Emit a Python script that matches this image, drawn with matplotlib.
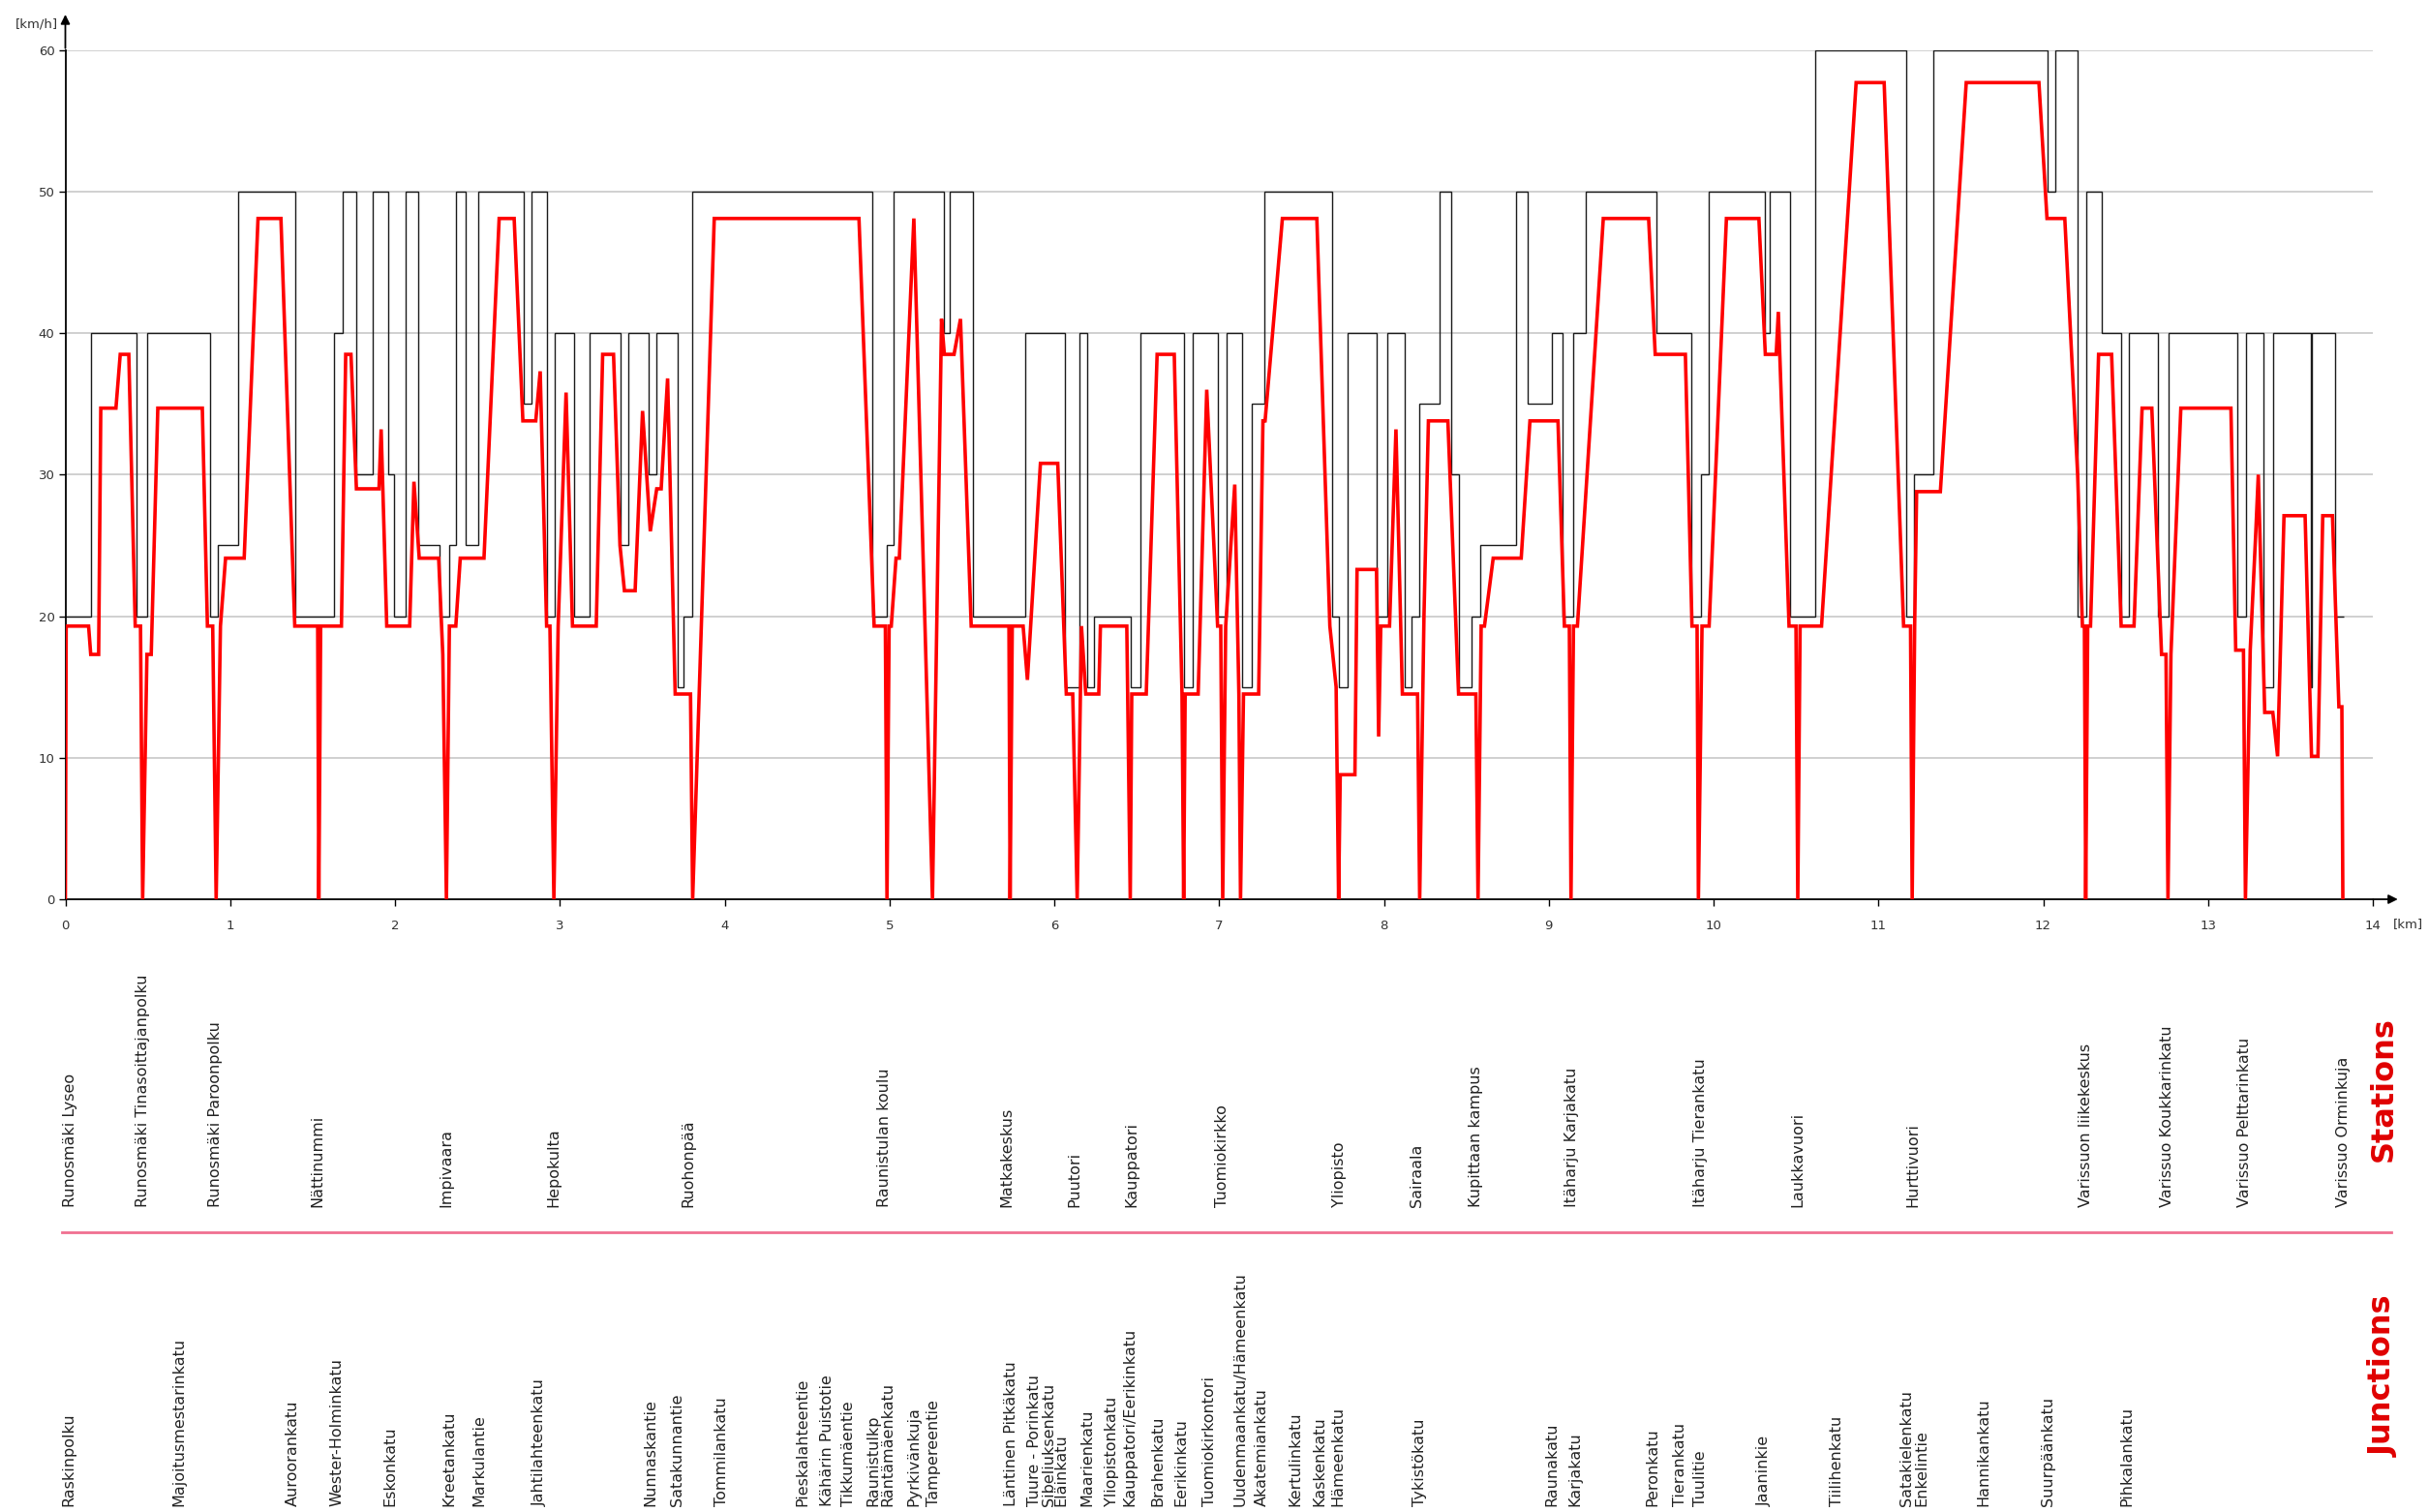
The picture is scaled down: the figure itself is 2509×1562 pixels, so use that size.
import matplotlib
matplotlib.use('Agg')
import matplotlib.pyplot as plt
import matplotlib.transforms as mtransforms
from matplotlib import font_manager

# ---------------- data ----------------
# speed limit (step function): start of each segment [km] and limit [km/h]
limit_start_km = [0.000, 0.154, 0.430, 0.495, 0.880, 0.928, 1.046, 1.394, 1.628, 1.683,
                  1.766, 1.864, 1.958, 1.995, 2.063, 2.141, 2.270, 2.330, 2.369, 2.427,
                  2.508, 2.784, 2.828, 2.925, 2.967, 3.085, 3.182, 3.371, 3.418, 3.536,
                  3.588, 3.714, 3.753, 3.806, 4.894, 4.985, 5.025, 5.331, 5.365, 5.504,
                  5.824, 6.065, 6.152, 6.199, 6.243, 6.466, 6.524, 6.786, 6.838, 6.991,
                  7.043, 7.140, 7.200, 7.274, 7.685, 7.725, 7.777, 7.955, 8.021, 8.125,
                  8.165, 8.217, 8.340, 8.406, 8.453, 8.532, 8.584, 8.799, 8.872, 9.017,
                  9.082, 9.148, 9.226, 9.651, 9.863, 9.921, 9.968, 10.309, 10.340, 10.466,
                  10.616, 11.171, 11.218, 11.336, 12.029, 12.072, 12.209, 12.264, 12.356, 12.473,
                  12.518, 12.698, 12.761, 13.178, 13.231, 13.334, 13.397, 13.622, 13.632, 13.769]
limit_kmh = [20, 40, 20, 40, 20, 25, 50, 20, 40, 50,
             30, 50, 30, 20, 50, 25, 20, 25, 50, 25,
             50, 35, 50, 20, 40, 20, 40, 25, 40, 30,
             40, 15, 20, 50, 20, 25, 50, 40, 50, 20,
             40, 15, 40, 15, 20, 15, 40, 15, 40, 20,
             40, 15, 35, 50, 20, 15, 40, 20, 40, 15,
             20, 35, 50, 30, 15, 20, 25, 50, 35, 40,
             20, 40, 50, 40, 20, 30, 50, 40, 50, 20,
             60, 20, 30, 60, 50, 60, 20, 50, 40, 20,
             40, 20, 40, 20, 40, 15, 40, 15, 40, 20]
route_end_km = 13.824

# simulated running speed profile
speed_km = [0.000, 0.005, 0.141, 0.154, 0.202, 0.215, 0.307, 0.333, 0.385, 0.424,
            0.456, 0.469, 0.495, 0.521, 0.561, 0.831, 0.862, 0.894, 0.915, 0.941,
            0.972, 1.085, 1.169, 1.308, 1.392, 1.531, 1.538, 1.549, 1.675, 1.701,
            1.733, 1.766, 1.903, 1.916, 1.950, 2.089, 2.115, 2.147, 2.265, 2.290,
            2.312, 2.330, 2.369, 2.396, 2.540, 2.632, 2.723, 2.776, 2.854, 2.881,
            2.920, 2.940, 2.964, 2.990, 3.038, 3.077, 3.221, 3.260, 3.326, 3.365,
            3.392, 3.457, 3.502, 3.549, 3.588, 3.615, 3.654, 3.700, 3.793, 3.806,
            3.937, 4.815, 4.907, 4.975, 4.985, 4.998, 5.011, 5.040, 5.060, 5.148,
            5.261, 5.316, 5.333, 5.392, 5.431, 5.496, 5.725, 5.732, 5.745, 5.811,
            5.837, 5.916, 6.021, 6.073, 6.112, 6.139, 6.165, 6.191, 6.270, 6.280,
            6.440, 6.461, 6.470, 6.558, 6.624, 6.728, 6.775, 6.785, 6.794, 6.873,
            6.925, 6.991, 7.010, 7.022, 7.040, 7.095, 7.120, 7.130, 7.148, 7.240,
            7.266, 7.279, 7.384, 7.593, 7.672, 7.710, 7.725, 7.735, 7.824, 7.837,
            7.955, 7.968, 7.981, 8.034, 8.073, 8.112, 8.204, 8.217, 8.243, 8.270,
            8.388, 8.453, 8.558, 8.571, 8.590, 8.610, 8.663, 8.833, 8.886, 9.056,
            9.095, 9.125, 9.135, 9.150, 9.174, 9.331, 9.606, 9.646, 9.829, 9.869,
            9.900, 9.908, 9.930, 9.973, 10.078, 10.275, 10.314, 10.380, 10.393, 10.458,
            10.500, 10.511, 10.525, 10.655, 10.865, 11.035, 11.153, 11.195, 11.205, 11.220,
            11.232, 11.376, 11.533, 11.974, 12.023, 12.131, 12.209, 12.238, 12.250, 12.258,
            12.270, 12.287, 12.336, 12.415, 12.473, 12.551, 12.600, 12.659, 12.718, 12.745,
            12.757, 12.775, 12.835, 13.139, 13.168, 13.215, 13.227, 13.256, 13.290, 13.305,
            13.344, 13.393, 13.422, 13.461, 13.589, 13.628, 13.667, 13.696, 13.755, 13.794,
            13.812, 13.818]
speed_kmh = [0.0, 19.3, 19.3, 17.3, 17.3, 34.7, 34.7, 38.5, 38.5, 19.3,
             19.3, 0.0, 17.3, 17.3, 34.7, 34.7, 19.3, 19.3, 0.0, 19.3,
             24.1, 24.1, 48.1, 48.1, 19.3, 19.3, 0.0, 19.3, 19.3, 38.5,
             38.5, 29.0, 29.0, 33.2, 19.3, 19.3, 29.5, 24.1, 24.1, 17.3,
             0.0, 19.3, 19.3, 24.1, 24.1, 48.1, 48.1, 33.8, 33.8, 37.3,
             19.3, 19.3, 0.0, 19.3, 35.8, 19.3, 19.3, 38.5, 38.5, 25.0,
             21.8, 21.8, 34.5, 26.0, 29.0, 29.0, 36.8, 14.5, 14.5, 0.0,
             48.1, 48.1, 19.3, 19.3, 0.0, 19.3, 19.3, 24.1, 24.1, 48.1,
             0.0, 41.0, 38.5, 38.5, 41.0, 19.3, 19.3, 0.0, 19.3, 19.3,
             15.5, 30.8, 30.8, 14.5, 14.5, 0.0, 19.3, 14.5, 14.5, 19.3,
             19.3, 0.0, 14.5, 14.5, 38.5, 38.5, 14.5, 0.0, 14.5, 14.5,
             36.0, 19.3, 19.3, 0.0, 19.3, 29.3, 14.5, 0.0, 14.5, 14.5,
             33.8, 33.8, 48.1, 48.1, 19.3, 15.0, 0.0, 8.8, 8.8, 23.3,
             23.3, 11.5, 19.3, 19.3, 33.2, 14.5, 14.5, 0.0, 20.0, 33.8,
             33.8, 14.5, 14.5, 0.0, 19.3, 19.3, 24.1, 24.1, 33.8, 33.8,
             19.3, 19.3, 0.0, 19.3, 19.3, 48.1, 48.1, 38.5, 38.5, 19.3,
             19.3, 0.0, 19.3, 19.3, 48.1, 48.1, 38.5, 38.5, 41.5, 19.3,
             19.3, 0.0, 19.3, 19.3, 57.7, 57.7, 19.3, 19.3, 0.0, 19.3,
             28.8, 28.8, 57.7, 57.7, 48.1, 48.1, 30.0, 19.3, 19.3, 0.0,
             19.3, 19.3, 38.5, 38.5, 19.3, 19.3, 34.7, 34.7, 17.3, 17.3,
             0.0, 17.3, 34.7, 34.7, 17.6, 17.6, 0.0, 17.6, 26.0, 30.0,
             13.2, 13.2, 10.1, 27.1, 27.1, 10.1, 10.1, 27.1, 27.1, 13.6,
             13.6, 0.0]

stations = ["Runosmäki Lyseo", "Runosmäki Tinasoittajanpolku", "Runosmäki Paroonpolku",
            "Nättinummi", "Impivaara", "Hepokulta", "Ruohonpää", "Raunistulan koulu",
            "Matkakeskus", "Puutori", "Kauppatori", "Tuomiokirkko", "Yliopisto", "Sairaala",
            "Kupittaan kampus", "Itäharju Karjakatu", "Itäharju Tierankatu", "Laukkavuori",
            "Hurttivuori", "Varissuon liikekeskus", "Varissuo Koukkarinkatu",
            "Varissuo Pelttarinkatu", "Varissuo Orminkuja"]
station_km = [0.03, 0.47, 0.91, 1.53, 2.31, 2.96, 3.78, 4.97, 5.71, 6.12, 6.47, 7.02, 7.73,
              8.20, 8.56, 9.14, 9.92, 10.51, 11.21, 12.26, 12.75, 13.22, 13.82]

junctions = ["Raskinpolku", "Majoitusmestarinkatu", "Auroorankatu", "Wester-Holminkatu",
             "Eskonkatu", "Kreetankatu", "Markulantie", "Jahtilahteenkatu", "Nunnaskantie",
             "Satakunnantie", "Tommilankatu", "Pieskalahteentie", "Kähärin Puistotie",
             "Tikkumäentie", "Raunistulkp", "Räntämäenkatu", "Pyrkivänkuja", "Tampereentie",
             "Läntinen Pitkäkatu", "Tuure - Porinkatu", "Sibeliuksenkatu", "Eläinkatu",
             "Maarienkatu", "Yliopistonkatu", "Kauppatori/Eerikinkatu", "Brahenkatu",
             "Eerikinkatu", "Tuomiokirkontori", "Uudenmaankatu/Hämeenkatu", "Akatemiankatu",
             "Kertulinkatu", "Kaskenkatu", "Hämeenkatu", "Tykistökatu", "Raunakatu",
             "Karjakatu", "Peronkatu", "Tierankatu", "Tuulitie", "Jaaninkie", "Tiilihenkatu",
             "Satakielenkatu", "Enkelintie", "Hannikankatu", "Suurpäänkatu", "Pihkalankatu"]
junction_km = [0.02, 0.69, 1.38, 1.65, 1.97, 2.33, 2.51, 2.88, 3.55, 3.71, 3.98, 4.47, 4.62,
               4.75, 4.90, 4.99, 5.15, 5.27, 5.74, 5.88, 5.97, 6.04, 6.20, 6.35, 6.46, 6.63,
               6.77, 6.94, 7.13, 7.26, 7.46, 7.61, 7.72, 8.22, 9.02, 9.16, 9.63, 9.80, 9.92,
               10.31, 10.75, 11.17, 11.26, 11.64, 12.03, 12.51]

x_ticks = list(range(0, 15))
y_ticks = [0, 10, 20, 30, 40, 50, 60]

# ---------------- styling ----------------
avail = {f.name for f in font_manager.fontManager.ttflist}
narrow = 'Liberation Sans Narrow' if 'Liberation Sans Narrow' in avail else 'DejaVu Sans'
label_font = 'DejaVu Sans'

W, H = 2509, 1562
fig = plt.figure(figsize=(W / 100, H / 100), dpi=100)
fig.patch.set_facecolor('white')

x0, x1 = 67.5, 2451.0
y0, y1 = 929.0, 51.7
ax = fig.add_axes([x0 / W, 1 - y0 / H, (x1 - x0) / W, (y0 - y1) / H])
ax.set_xlim(0, 14)
ax.set_ylim(0, 60)

for s in ['top', 'right']:
    ax.spines[s].set_visible(False)
for s in ['left', 'bottom']:
    ax.spines[s].set_linewidth(1.3)
    ax.spines[s].set_color('black')

for yv in y_ticks[1:]:
    ax.axhline(yv, color='#c8c8c8', lw=1.2, zorder=0)

# speed limit steps
edges = limit_start_km + [route_end_km]
ax.stairs(limit_kmh, edges, baseline=None, color='#1a1a1a', lw=1.0, zorder=2)

# running speed
ax.plot(speed_km, speed_kmh, color='#ff0000', lw=2.6, zorder=3, solid_joinstyle='miter')

ax.set_xticks(x_ticks)
ax.set_yticks(y_ticks)
ax.set_xticklabels([str(v) for v in x_ticks], fontsize=9.5, family=narrow, color='#333333')
ax.set_yticklabels([str(v) for v in y_ticks], fontsize=9.5, family=narrow, color='#333333')
ax.tick_params(axis='x', length=5, width=1, pad=10, direction='out')
ax.tick_params(axis='y', length=5, width=1, pad=3, direction='out')

# axis arrows
ax.annotate('', xy=(1.012, 0), xytext=(0.999, 0), xycoords='axes fraction',
            arrowprops=dict(arrowstyle='-|>', color='black', lw=1.3, mutation_scale=14),
            annotation_clip=False)
ax.annotate('', xy=(0, 1.045), xytext=(0, 0.999), xycoords='axes fraction',
            arrowprops=dict(arrowstyle='-|>', color='black', lw=1.3, mutation_scale=14),
            annotation_clip=False)

fig.text(38 / W, 1 - 25 / H, '[km/h]', fontsize=9.5, family=narrow, ha='center', va='center',
         color='#333333')
fig.text(2487 / W, 1 - 955 / H, '[km]', fontsize=9.5, family=narrow, ha='center', va='center',
         color='#333333')

# station and junction labels
trans = mtransforms.blended_transform_factory(ax.transData, fig.transFigure)
for name, km in zip(stations, station_km):
    fig.text(km, 1 - 1247 / H, name, transform=trans, rotation=90, ha='center', va='bottom',
             fontsize=11.5, family=label_font, color='#222222')
for name, km in zip(junctions, junction_km):
    fig.text(km, 1 - 1556 / H, name, transform=trans, rotation=90, ha='center', va='bottom',
             fontsize=11.5, family=label_font, color='#222222')

# separator
fig.add_artist(plt.Line2D([64 / W, 2470 / W], [1 - 1273 / H, 1 - 1273 / H],
                          transform=fig.transFigure, color='#f07090', lw=2))

fig.text(2462 / W, 1 - 1125 / H, 'Stations', rotation=90, ha='center', va='center',
         fontsize=23, fontweight='bold', color='#e00000', family='DejaVu Sans')
fig.text(2462 / W, 1 - 1422 / H, 'Junctions', rotation=90, ha='center', va='center',
         fontsize=23, fontweight='bold', color='#e00000', family='DejaVu Sans')

fig.savefig('out.png', dpi=100, facecolor='white')
